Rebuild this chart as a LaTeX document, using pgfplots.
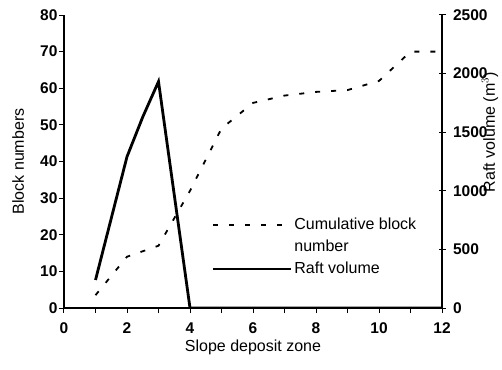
\documentclass[border=0pt]{standalone}
\usepackage{fontspec}
\setmainfont{Liberation Sans}
\usepackage{pgfplots}
\pgfplotsset{compat=1.18}

\pgfplotstableread{
x cum
1 3.5
2 14
3 17
4 32
5 49
6 56
7 58
8 59
9 59.5
10 62
11 70
12 70
}\cumdata

\pgfplotstableread{
x raft
1 239
2 1291
2.5 1630
3 1932
4 0
5 0
6 0
7 0
8 0
9 0
10 0
11 0
12 0
}\raftdata

\newcommand{\tfont}{\fontsize{15.5}{17}\selectfont\bfseries}

\begin{document}
\begin{tikzpicture}
\useasboundingbox (-64pt,-61pt) rectangle (438pt,308pt);
\pgfplotsset{
  common/.style={
    scale only axis, width=378pt, height=293pt,
    xmin=0, xmax=12,
    axis line style={line width=1.3pt,-},
    tick style={black, line width=1pt},
    yticklabel={\tfont\pgfmathtruncatemacro{\tmp}{\tick}\tmp},
    label style={font=\fontsize{16}{18}\selectfont},
  }
}
\begin{axis}[common,
  ymin=0, ymax=80,
  axis x line*=bottom, axis y line*=left,
  xtick={0,1,...,12},
  xticklabels={{\tfont 0},,{\tfont 2},,{\tfont 4},,{\tfont 6},,{\tfont 8},,{\tfont 10},,{\tfont 12}},
  xticklabel style={yshift=-6pt},
  yticklabel style={xshift=2pt},
  ytick={0,10,...,80},
  tick align=outside,
  major tick length=5pt,
  xlabel={Slope deposit zone},
  ylabel={Block numbers},
  xlabel style={at={(axis description cs:0.5,-0.150)}, anchor=base},
  ylabel style={at={(axis description cs:-0.106,0.5)}, anchor=base},
]
\addplot[black, line width=1.8pt, dash pattern=on 5pt off 11pt] table[x=x,y=cum]{\cumdata};
\end{axis}
\begin{axis}[common,
  ymin=0, ymax=2500,
  axis x line=none, axis y line*=right,
  ytick={0,500,...,2500},
  yticklabel style={xshift=4pt},
  tick align=center,
  major tick length=7pt,
  ylabel={Raft volume (m$^3$)},
  ylabel style={at={(axis description cs:1.14,0.6)}, anchor=base},
  legend style={draw=none, fill=none, at={(axis description cs:0.39,0.314)}, anchor=north west,
    font=\fontsize{16}{18}\selectfont, cells={anchor=west},
    row sep=5pt, inner sep=0pt},
  legend image code/.code={\draw[#1] (0pt,0pt) -- (78pt,0pt);},
]
\addlegendimage{black, line width=1.8pt, dash pattern=on 5pt off 11pt}
\addlegendentry{Cumulative block}
\addlegendimage{empty legend}
\addlegendentry{number}
\addplot[black, line width=2.8pt] table[x=x,y=raft]{\raftdata};
\addlegendentry{Raft volume}
\end{axis}
\end{tikzpicture}
\end{document}
